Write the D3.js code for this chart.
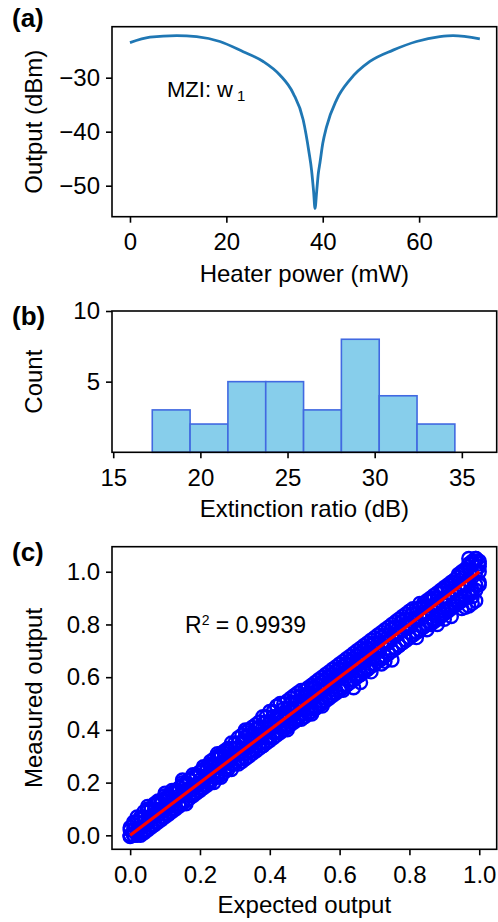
<!DOCTYPE html>
<html lang="en">
<head>
<meta charset="utf-8"/>
<title>MZI characterisation</title>
<script src="https://cdnjs.cloudflare.com/ajax/libs/d3/7.8.5/d3.min.js"></script>
<style>
  body { margin: 0; background: #fff; }
  svg { display: block; }
  text { font-family: "Liberation Sans", Arial, sans-serif; fill: #000; }
  .tick text { font-size: 24px; }
  .tick line, .domain { stroke: #000; stroke-width: 1.6; }
</style>
</head>
<body>
<svg id="fig" width="498" height="922"></svg>
<script>
// (a) heater sweep
var heaterPower = [0, 4.15, 9.68, 13.83, 18.66, 23.5, 27.65, 31.1, 33.87, 35.94, 37.18, 37.68, 38.1, 38.4,
                   38.75, 39.1, 39.4, 40.0, 40.79, 42.87, 45.63, 49.78, 54.6, 59.46, 64.3, 67.05, 72.6];
var outputDbm = [-23.5, -22.5, -22.2, -22.4, -23.3, -25.2, -27.0, -29.5, -32.9, -37.8, -44.0, -47.1, -51.0, -54.2,
                 -51.0, -47.6, -45.9, -42.2, -39.1, -34.1, -30.4, -27.0, -24.9, -23.3, -22.4, -22.2, -22.8];
var xTicksA = [0, 20, 40, 60];
var yTicksA = [-50, -40, -30];

// (b) histogram of extinction ratio
var binEdges = [17.24, 19.41, 21.58, 23.75, 25.92, 28.09, 30.26, 32.43, 34.6];
var binCounts = [3, 2, 5, 5, 3, 8, 4, 2];
var xTicksB = [15, 20, 25, 30, 35];
var yTicksB = [5, 10];

// (c) measured vs expected, five readings per expected value
var expected = [0.00,0.01,0.02,0.03,0.04,0.05,0.06,0.07,0.08,0.09,0.10,0.11,0.12,0.13,0.14,0.15,0.16,0.17,0.18,0.19,
  0.20,0.21,0.22,0.23,0.24,0.25,0.26,0.27,0.28,0.29,0.30,0.31,0.32,0.33,0.34,0.35,0.36,0.37,0.38,0.39,
  0.40,0.41,0.42,0.43,0.44,0.45,0.46,0.47,0.48,0.49,0.50,0.51,0.52,0.53,0.54,0.55,0.56,0.57,0.58,0.59,
  0.60,0.61,0.62,0.63,0.64,0.65,0.66,0.67,0.68,0.69,0.70,0.71,0.72,0.73,0.74,0.75,0.76,0.77,0.78,0.79,
  0.80,0.81,0.82,0.83,0.84,0.85,0.86,0.87,0.88,0.89,0.90,0.91,0.92,0.93,0.94,0.95,0.96,0.97,0.98,0.99,1.00];
var measuredTop = [0.03,0.05,0.07,0.07,0.09,0.10,0.10,0.12,0.13,0.13,0.15,0.15,0.17,0.17,0.18,0.20,0.20,0.21,0.23,0.23,
  0.24,0.26,0.26,0.28,0.29,0.30,0.31,0.32,0.33,0.35,0.35,0.37,0.38,0.39,0.40,0.41,0.42,0.43,0.45,0.45,
  0.47,0.47,0.49,0.50,0.50,0.51,0.52,0.53,0.54,0.55,0.55,0.56,0.57,0.58,0.59,0.60,0.61,0.62,0.63,0.64,
  0.65,0.66,0.67,0.68,0.69,0.70,0.71,0.72,0.73,0.74,0.75,0.76,0.77,0.78,0.79,0.80,0.81,0.82,0.83,0.84,
  0.85,0.86,0.86,0.88,0.88,0.89,0.90,0.91,0.92,0.93,0.94,0.95,0.96,0.97,0.99,1.00,1.01,1.03,1.04,1.05,1.03];
var measuredHi = [0.02,0.04,0.05,0.06,0.07,0.09,0.10,0.10,0.12,0.12,0.14,0.14,0.16,0.16,0.17,0.19,0.19,0.21,0.22,0.22,
  0.24,0.25,0.25,0.27,0.27,0.29,0.30,0.30,0.32,0.33,0.33,0.35,0.35,0.37,0.38,0.38,0.40,0.41,0.41,0.43,
  0.43,0.45,0.45,0.46,0.48,0.48,0.50,0.50,0.51,0.53,0.53,0.54,0.56,0.56,0.57,0.58,0.59,0.60,0.61,0.62,
  0.63,0.64,0.65,0.66,0.67,0.68,0.69,0.70,0.71,0.72,0.73,0.73,0.75,0.76,0.76,0.78,0.79,0.79,0.81,0.82,
  0.82,0.84,0.84,0.86,0.87,0.87,0.89,0.90,0.90,0.92,0.93,0.94,0.95,0.96,0.98,0.99,1.00,1.02,1.03,1.04,1.04];
var measuredMid = [0.00,0.02,0.02,0.03,0.05,0.05,0.07,0.08,0.08,0.10,0.11,0.11,0.13,0.13,0.15,0.16,0.16,0.18,0.19,0.19,
  0.21,0.21,0.23,0.24,0.24,0.26,0.26,0.28,0.28,0.29,0.31,0.31,0.33,0.33,0.34,0.36,0.36,0.38,0.38,0.39,
  0.41,0.41,0.42,0.44,0.44,0.45,0.47,0.47,0.48,0.50,0.50,0.51,0.51,0.53,0.55,0.55,0.56,0.58,0.58,0.60,
  0.60,0.61,0.62,0.62,0.64,0.66,0.66,0.67,0.69,0.69,0.70,0.71,0.72,0.73,0.73,0.75,0.76,0.77,0.78,0.80,
  0.80,0.81,0.82,0.83,0.84,0.84,0.86,0.87,0.88,0.89,0.90,0.92,0.92,0.93,0.94,0.95,0.95,0.97,0.98,1.00,1.00];
var measuredLo = [0.00,0.00,0.01,0.01,0.02,0.03,0.04,0.05,0.06,0.07,0.08,0.09,0.10,0.11,0.12,0.13,0.13,0.15,0.16,0.17,
  0.18,0.19,0.20,0.21,0.22,0.23,0.23,0.25,0.26,0.27,0.28,0.29,0.29,0.31,0.32,0.32,0.34,0.35,0.35,0.37,
  0.37,0.39,0.39,0.41,0.41,0.42,0.43,0.44,0.45,0.46,0.46,0.48,0.48,0.49,0.50,0.51,0.52,0.53,0.54,0.55,
  0.56,0.57,0.57,0.59,0.59,0.61,0.61,0.63,0.63,0.65,0.65,0.67,0.67,0.68,0.69,0.70,0.71,0.72,0.73,0.74,
  0.75,0.76,0.77,0.78,0.79,0.80,0.81,0.82,0.83,0.84,0.85,0.86,0.87,0.88,0.89,0.90,0.91,0.92,0.93,0.95,0.96];
var measuredBottom = [-0.005,0.00,0.00,0.00,0.01,0.02,0.03,0.04,0.05,0.06,0.07,0.08,0.09,0.10,0.11,0.12,0.12,0.14,0.15,0.16,
  0.17,0.18,0.19,0.20,0.20,0.22,0.22,0.24,0.25,0.25,0.27,0.27,0.28,0.29,0.30,0.31,0.32,0.33,0.34,0.35,
  0.36,0.37,0.38,0.39,0.40,0.41,0.42,0.43,0.44,0.44,0.45,0.46,0.47,0.48,0.49,0.50,0.51,0.52,0.53,0.54,
  0.55,0.56,0.57,0.58,0.59,0.60,0.61,0.62,0.63,0.64,0.65,0.66,0.67,0.68,0.69,0.70,0.71,0.72,0.73,0.74,
  0.75,0.76,0.77,0.78,0.79,0.80,0.80,0.81,0.82,0.83,0.84,0.85,0.86,0.87,0.88,0.89,0.90,0.91,0.92,0.93,0.95];
// stray points off the main band
var strayExpected = [0.05,0.10,0.15,0.25,0.33,0.38,0.42,0.45,0.47,0.52,0.55,0.61,0.64,0.66,0.69,0.72,
  0.73,0.75,0.82,0.85,0.88,0.90,0.92,0.95,0.96,0.97,0.98,0.99,0.98,0.97,0.99,1.00];
var strayMeasured = [0.11,0.16,0.21,0.31,0.40,0.34,0.49,0.40,0.53,0.46,0.49,0.55,0.56,0.58,0.62,0.65,
  0.66,0.665,0.75,0.78,0.80,0.82,0.83,0.86,0.865,0.87,0.88,0.89,0.905,1.05,1.05,1.02];
var fitX = [0, 1];
var fitY = [0, 1];
var ticksC = [0, 0.2, 0.4, 0.6, 0.8, 1.0];

var svg = d3.select("#fig");
var L = 112, R = 496.7;

function frame(top, bottom) {
  svg.append("rect").attr("x", L).attr("y", top).attr("width", R - L).attr("height", bottom - top)
    .attr("fill", "none").attr("stroke", "#000").attr("stroke-width", 1.6);
}
function axes(x, y, top, bottom, xt, yt, fmt) {
  var gx = svg.append("g").attr("transform", "translate(0," + bottom + ")")
    .call(d3.axisBottom(x).tickValues(xt).tickSize(6).tickPadding(10.5).tickFormat(fmt));
  var gy = svg.append("g").attr("transform", "translate(" + L + ",0)")
    .call(d3.axisLeft(y).tickValues(yt).tickSize(6).tickPadding(6).tickFormat(fmt));
  gx.select(".domain").remove();
  gy.select(".domain").remove();
}
function label(txt, x, y, rot, size, weight) {
  var t = svg.append("text").attr("font-size", size || 24).attr("font-weight", weight || "normal").text(txt);
  if (rot) t.attr("transform", "translate(" + x + "," + y + ") rotate(-90)").attr("text-anchor", "middle");
  else t.attr("x", x).attr("y", y);
  return t;
}
var minusFmt = function(d) { return String(d).replace("-", "\u2212"); };

// ---- (a)
var topA = 26.7, botA = 216.7;
var xA = d3.scaleLinear().domain([-3.73, 76.1]).range([L, R]);
var yA = d3.scaleLinear().domain([-55.74, -20.56]).range([botA, topA]);
svg.append("path").datum(d3.zip(heaterPower, outputDbm))
  .attr("fill", "none").attr("stroke", "#1f77b4").attr("stroke-width", 2.8)
  .attr("d", d3.line().x(function(d) { return xA(d[0]); }).y(function(d) { return yA(d[1]); }).curve(d3.curveMonotoneX));
axes(xA, yA, topA, botA, xTicksA, yTicksA, minusFmt);
frame(topA, botA);
label("Heater power (mW)", (L + R) / 2, 281.5).attr("text-anchor", "middle");
label("Output (dBm)", 42, (topA + botA) / 2, true);
var mzi = label("MZI: w", 167, 97.3, false, 22);
mzi.append("tspan").attr("font-size", 15).attr("dx", 4).attr("dy", 4).text("1");
label("(a)", 12, 27, false, 26, "bold");

// ---- (b)
var topB = 311, botB = 452.3;
var xB = d3.scaleLinear().domain([14.93, 37.0]).range([L, R]);
var yB = d3.scaleLinear().domain([0, 10]).range([botB, topB]);
svg.append("g").selectAll("rect").data(binCounts).join("rect")
  .attr("x", function(d, i) { return xB(binEdges[i]); })
  .attr("width", function(d, i) { return xB(binEdges[i + 1]) - xB(binEdges[i]); })
  .attr("y", function(d) { return yB(d); })
  .attr("height", function(d) { return yB(0) - yB(d); })
  .attr("fill", "#87ceeb").attr("stroke", "#4169e1").attr("stroke-width", 1.6);
axes(xB, yB, topB, botB, xTicksB, yTicksB, d3.format("d"));
frame(topB, botB);
label("Extinction ratio (dB)", (L + R) / 2, 517).attr("text-anchor", "middle");
label("Count", 42, (topB + botB) / 2, true);
label("(b)", 12, 325, false, 26, "bold");

// ---- (c)
var topC = 546.7, botC = 849.3;
var xC = d3.scaleLinear().domain([-0.05, 1.05]).range([L + 0.7, R]);
var yC = d3.scaleLinear().domain([-0.053, 1.095]).range([botC, topC]);
var pts = [];
[measuredTop, measuredHi, measuredMid, measuredLo, measuredBottom].forEach(function(m) {
  expected.forEach(function(e, i) { pts.push([e, m[i]]); });
});
strayExpected.forEach(function(e, i) { pts.push([e, strayMeasured[i]]); });
svg.append("g").selectAll("circle").data(pts).join("circle")
  .attr("cx", function(d) { return xC(d[0]); })
  .attr("cy", function(d) { return yC(d[1]); })
  .attr("r", 6.5)
  .attr("fill", "none").attr("stroke", "#0000ff").attr("stroke-width", 2.4);
svg.append("path").datum(d3.zip(fitX, fitY))
  .attr("fill", "none").attr("stroke", "#ff0000").attr("stroke-width", 3.2)
  .attr("d", d3.line().x(function(d) { return xC(d[0]); }).y(function(d) { return yC(d[1]); }));
axes(xC, yC, topC, botC, ticksC, ticksC, d3.format(".1f"));
frame(topC, botC);
label("Expected output", (L + R) / 2, 913).attr("text-anchor", "middle");
label("Measured output", 42, (topC + botC) / 2, true);
var r2 = label("R", 185, 633, false, 23);
r2.append("tspan").attr("font-size", 14).attr("dy", -8).text("2");
r2.append("tspan").attr("dy", 8).text(" = 0.9939");
label("(c)", 12, 561, false, 26, "bold");
</script>
</body>
</html>
